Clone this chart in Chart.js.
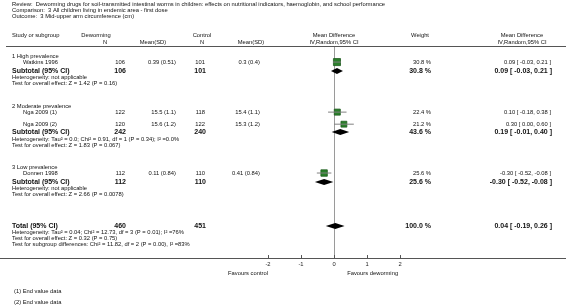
<!DOCTYPE html>
<html>
<head>
<meta charset="utf-8">
<script src="https://cdn.jsdelivr.net/npm/chart.js@4.4.0/dist/chart.umd.min.js"></script>
<style>
  html, body { margin: 0; padding: 0; background: #fff; }
  #wrap { width: 566px; height: 308px; position: relative; }
</style>
</head>
<body>
<div id="wrap"><canvas id="forest"></canvas></div>
<script>
// single studies
var studies = ["Watkins 1996", "Nga 2009 (1)", "Nga 2009 (2)", "Donnen 1998"];
var nDew = [106, 122, 120, 112];
var meanDew = ["0.39 (0.51)", "15.5 (1.1)", "15.6 (1.2)", "0.11 (0.84)"];
var nCtrl = [101, 118, 122, 110];
var meanCtrl = ["0.3 (0.4)", "15.4 (1.1)", "15.3 (1.2)", "0.41 (0.84)"];
var md = [0.09, 0.10, 0.30, -0.30];
var lo = [-0.03, -0.18, 0.00, -0.52];
var hi = [0.21, 0.38, 0.60, -0.08];
var weight = [30.8, 22.4, 21.2, 25.6];

// pooled rows: 3 subtotals then the total
var poolLabels = ["Subtotal (95% CI)", "Subtotal (95% CI)", "Subtotal (95% CI)", "Total (95% CI)"];
var poolNDew = [106, 242, 112, 460];
var poolNCtrl = [101, 240, 110, 451];
var poolMd = [0.09, 0.19, -0.30, 0.04];
var poolLo = [-0.03, -0.01, -0.52, -0.19];
var poolHi = [0.21, 0.40, -0.08, 0.26];
var poolWeight = [30.8, 43.6, 25.6, 100.0];

var groupNames = ["1 High prevalence", "2 Moderate prevalence", "3 Low prevalence"];
var hetText = [
  "Heterogeneity: not applicable",
  "Heterogeneity: Tau\u00b2 = 0.0; Chi\u00b2 = 0.91, df = 1 (P = 0.34); I\u00b2 =0.0%",
  "Heterogeneity: not applicable",
  "Heterogeneity: Tau\u00b2 = 0.04; Chi\u00b2 = 12.73, df = 3 (P = 0.01); I\u00b2 =76%"
];
var testText = [
  "Test for overall effect: Z = 1.42 (P = 0.16)",
  "Test for overall effect: Z = 1.83 (P = 0.067)",
  "Test for overall effect: Z = 2.66 (P = 0.0078)",
  "Test for overall effect: Z = 0.32 (P = 0.75)"
];
var subgroupText = "Test for subgroup differences: Chi\u00b2 = 11.82, df = 2 (P = 0.00), I\u00b2 =83%";
var xTicks = [-2, -1, 0, 1, 2];
var footnotes = ["(1) End value data", "(2) End value data"];

// row layout (in line units on the hidden y scale)
var groupRow = [1.5, 9.8, 19.9];
var studyRow = [2.5, 10.8, 12.8, 20.9];
var poolRow = [4, 14.1, 22.4, 29.7];
var hetRow = [5.1, 15.3, 23.5, 30.8];
var testRow = [6.1, 16.3, 24.5, 31.8];
var subgroupRow = 32.8;

function ciLabel(m, l, h) {
  return m.toFixed(2) + " [ " + l.toFixed(2) + ", " + h.toFixed(2) + " ]";
}

var ciData = [];
studies.forEach(function (s, i) {
  ciData.push({x: lo[i], y: studyRow[i]}, {x: hi[i], y: studyRow[i]}, {x: null, y: null});
});
var sqData = studies.map(function (s, i) { return {x: md[i], y: studyRow[i]}; });
var sqRadius = weight.map(function (w) { return 5 * Math.sqrt(w / 30.8); });

function txt(ctx, s, x, y, align, bold, size) {
  ctx.font = (bold ? "bold " : "") + size + "px 'Liberation Sans', Arial, sans-serif";
  ctx.textAlign = align;
  ctx.textBaseline = "middle";
  ctx.fillText(s, x, y);
}

var forestPlugin = {
  id: "forest",
  beforeDatasetsDraw: function (chart) {
    var ctx = chart.ctx, xs = chart.scales.x, area = chart.chartArea;
    var x0 = xs.getPixelForValue(0);
    ctx.save();
    ctx.strokeStyle = "#9a9a9a";
    ctx.lineWidth = 1;
    ctx.beginPath();
    ctx.moveTo(Math.round(x0) + 0.5, area.top);
    ctx.lineTo(Math.round(x0) + 0.5, area.bottom);
    ctx.stroke();
    ctx.restore();
  },
  afterDatasetsDraw: function (chart) {
    var ctx = chart.ctx, xs = chart.scales.x, ys = chart.scales.y;
    ctx.save();
    ctx.fillStyle = "#000";
    poolMd.forEach(function (m, i) {
      var y = ys.getPixelForValue(poolRow[i]);
      ctx.beginPath();
      ctx.moveTo(xs.getPixelForValue(poolLo[i]) - 2, y);
      ctx.lineTo(xs.getPixelForValue(m), y - 3);
      ctx.lineTo(xs.getPixelForValue(poolHi[i]) + 2, y);
      ctx.lineTo(xs.getPixelForValue(m), y + 3);
      ctx.closePath();
      ctx.fill();
    });
    ctx.restore();
  },
  afterDraw: function (chart) {
    var ctx = chart.ctx, xs = chart.scales.x, ys = chart.scales.y, area = chart.chartArea;
    var W = chart.width;
    ctx.save();
    // rules
    ctx.strokeStyle = "#555";
    ctx.lineWidth = 1;
    ctx.beginPath();
    ctx.moveTo(6, Math.round(area.top) - 0.5);
    ctx.lineTo(W, Math.round(area.top) - 0.5);
    ctx.moveTo(0, Math.round(area.bottom) + 0.5);
    ctx.lineTo(W, Math.round(area.bottom) + 0.5);
    xTicks.forEach(function (t) {
      var px = Math.round(xs.getPixelForValue(t)) + 0.5;
      ctx.moveTo(px, area.bottom - 3);
      ctx.lineTo(px, area.bottom);
    });
    ctx.stroke();

    ctx.fillStyle = "#111";
    var fs = 5.8, fb = 7;
    // titles
    txt(ctx, "Review:  Deworming drugs for soil-transmitted intestinal worms in children: effects on nutritional indicators, haemoglobin, and school performance", 12, 4, "left", false, fs);
    txt(ctx, "Comparison:  3 All children living in endemic area - first dose", 12, 10, "left", false, fs);
    txt(ctx, "Outcome:  3 Mid-upper arm circumference (cm)", 12, 16, "left", false, fs);

    // column headers
    var h1 = 35, h2 = 42;
    txt(ctx, "Study or subgroup", 12, h1, "left", false, fs);
    txt(ctx, "Deworming", 96, h1, "center", false, fs);
    txt(ctx, "N", 105, h2, "center", false, fs);
    txt(ctx, "Mean(SD)", 153, h2, "center", false, fs);
    txt(ctx, "Control", 202, h1, "center", false, fs);
    txt(ctx, "N", 202, h2, "center", false, fs);
    txt(ctx, "Mean(SD)", 251, h2, "center", false, fs);
    txt(ctx, "Mean Difference", 334, h1, "center", false, fs);
    txt(ctx, "IV,Random,95% CI", 334, h2, "center", false, fs);
    txt(ctx, "Weight", 420, h1, "center", false, fs);
    txt(ctx, "Mean Difference", 522, h1, "center", false, fs);
    txt(ctx, "IV,Random,95% CI", 522, h2, "center", false, fs);

    groupNames.forEach(function (g, i) {
      txt(ctx, g, 12, ys.getPixelForValue(groupRow[i]), "left", false, fs);
    });
    studies.forEach(function (s, i) {
      var y = ys.getPixelForValue(studyRow[i]);
      txt(ctx, s, 23, y, "left", false, fs);
      txt(ctx, String(nDew[i]), 125, y, "right", false, fs);
      txt(ctx, meanDew[i], 176, y, "right", false, fs);
      txt(ctx, String(nCtrl[i]), 205, y, "right", false, fs);
      txt(ctx, meanCtrl[i], 260, y, "right", false, fs);
      txt(ctx, weight[i].toFixed(1) + " %", 431, y, "right", false, fs);
      txt(ctx, ciLabel(md[i], lo[i], hi[i]), 551, y, "right", false, fs);
    });
    poolLabels.forEach(function (p, i) {
      var y = ys.getPixelForValue(poolRow[i]);
      txt(ctx, p, 12, y, "left", true, fb);
      txt(ctx, String(poolNDew[i]), 126, y, "right", true, fb);
      txt(ctx, String(poolNCtrl[i]), 206, y, "right", true, fb);
      txt(ctx, poolWeight[i].toFixed(1) + " %", 431, y, "right", true, fb);
      txt(ctx, ciLabel(poolMd[i], poolLo[i], poolHi[i]), 552, y, "right", true, fb);
      txt(ctx, hetText[i], 12, ys.getPixelForValue(hetRow[i]), "left", false, fs);
      txt(ctx, testText[i], 12, ys.getPixelForValue(testRow[i]), "left", false, fs);
    });
    txt(ctx, subgroupText, 12, ys.getPixelForValue(subgroupRow), "left", false, fs);

    // favours labels
    txt(ctx, "Favours control", xs.getPixelForValue(-2), area.bottom + 15, "right", false, fs);
    txt(ctx, "Favours deworming", xs.getPixelForValue(0.4), area.bottom + 15, "left", false, fs);

    footnotes.forEach(function (f, i) {
      txt(ctx, f, 14, 291 + i * 11, "left", false, fs);
    });
    ctx.restore();
  }
};

var chart = new Chart(document.getElementById("forest"), {
  type: "scatter",
  data: {
    datasets: [
      {
        data: ciData,
        showLine: true,
        spanGaps: false,
        borderColor: "#808080",
        borderWidth: 1,
        pointRadius: 0
      },
      {
        data: sqData,
        pointStyle: "rect",
        pointRadius: sqRadius,
        backgroundColor: "#2a7f2a",
        borderColor: "#1d5c1d",
        borderWidth: 0.8
      }
    ]
  },
  options: {
    responsive: true,
    maintainAspectRatio: false,
    animation: false,
    devicePixelRatio: 1,
    layout: { padding: { left: 268, right: 166, top: 47, bottom: 37 } },
    plugins: { legend: { display: false }, tooltip: { enabled: false } },
    scales: {
      x: {
        type: "linear",
        min: -2,
        max: 2,
        ticks: { stepSize: 1, padding: 3, color: "#222", font: { size: 5.8, family: "'Liberation Sans', Arial, sans-serif" } },
        grid: { display: false, drawTicks: false },
        border: { display: false }
      },
      y: { type: "linear", reverse: true, min: 0, max: 35, display: false }
    }
  },
  plugins: [forestPlugin]
});
</script>
</body>
</html>
